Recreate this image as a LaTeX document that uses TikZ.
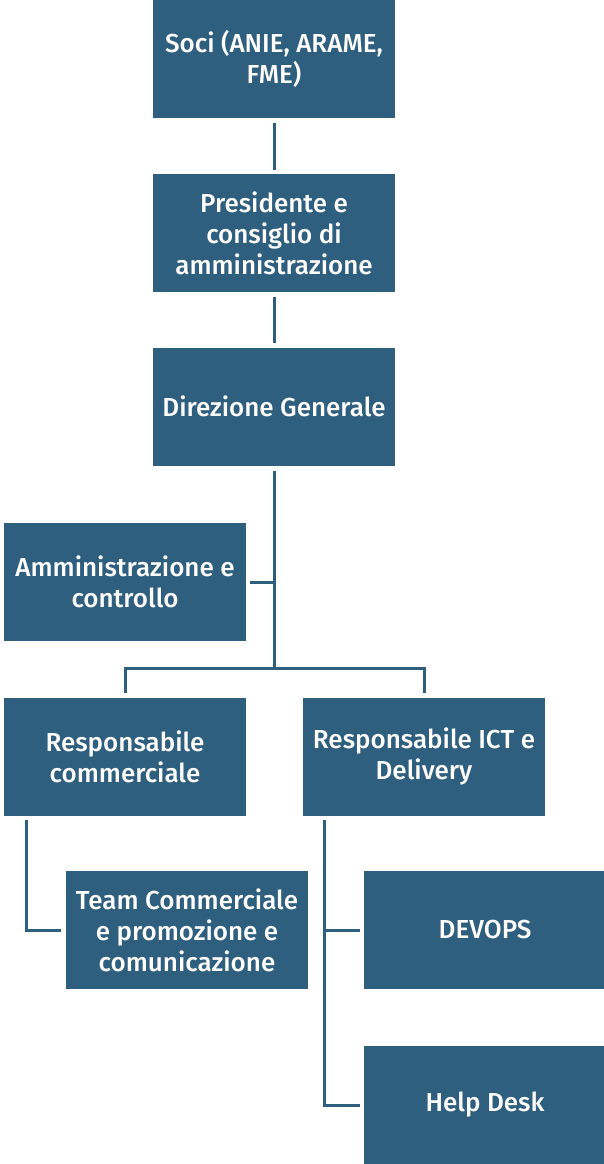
\documentclass[tikz,border=0pt]{standalone}
\usepackage{fontspec}
\setmainfont{Fira Sans Medium}
\definecolor{boxblue}{HTML}{2F5F7E}
\begin{document}
\begin{tikzpicture}[x=1pt,y=-1pt,
  orgbox/.style={fill=boxblue, text=white, minimum width=242pt, minimum height=118pt,
    inner sep=0pt, align=center, font=\fontsize{26}{31}\selectfont},
  conn/.style={draw=boxblue, line width=3pt}]
\useasboundingbox (0,0) rectangle (603,1164);
\node[orgbox] (soci) at (274,59) {Soci (ANIE, ARAME,\\FME)};
\node[orgbox] (pres) at (274,233) {Presidente e\\consiglio di\\amministrazione};
\node[orgbox] (dir) at (274,406.5) {Direzione Generale};
\node[orgbox] (amm) at (125,582) {Amministrazione e\\controllo};
\node[orgbox] (rc) at (125,756.5) {Responsabile\\commerciale};
\node[orgbox] (rict) at (424,756.5) {Responsabile ICT e\\Delivery};
\node[orgbox] (team) at (187,930) {Team Commerciale\\e promozione e\\comunicazione};
\node[orgbox] (devops) at (485,930) {DEVOPS};
\node[orgbox] (help) at (485,1105) {Help Desk};

\coordinate (bus) at (274,668);
\coordinate (lrc) at ([xshift=23pt]rc.south west);
\coordinate (lict) at ([xshift=22pt]rict.south west);

\draw[conn] ([yshift=-5pt]soci.south) -- ([yshift=4pt]pres.north);
\draw[conn] ([yshift=-5pt]pres.south) -- ([yshift=4pt]dir.north);
\draw[conn] ([yshift=-5pt]dir.south) -- (bus);
\draw[conn] ([xshift=4pt]amm.east) -- (amm.east -| bus);
\draw[conn] ([yshift=4pt]rc.north) |- (bus) -| ([yshift=4pt]rict.north);
\draw[conn] ([yshift=-4pt]lrc) |- ([xshift=-5pt]team.west);
\draw[conn] ([yshift=-4pt]lict) |- ([xshift=-4pt]help.west);
\draw[conn] (lict |- devops.west) -- ([xshift=-4pt]devops.west);
\end{tikzpicture}
\end{document}
